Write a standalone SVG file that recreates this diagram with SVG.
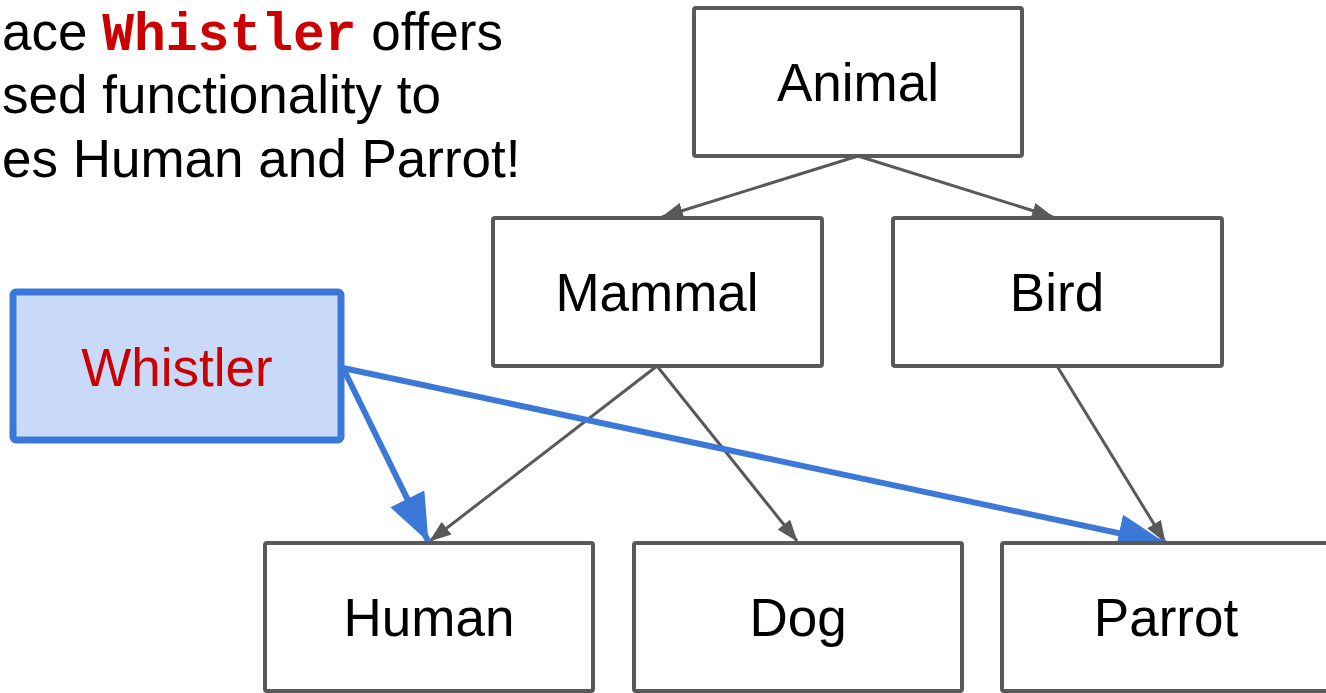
<svg xmlns="http://www.w3.org/2000/svg" width="1326" height="693" viewBox="0 0 1326 693">
<style>
.box{fill:#ffffff;stroke:#595959;stroke-width:4;}
.lbl{font-family:"Liberation Sans",Arial,sans-serif;font-size:53px;fill:#000000;text-anchor:middle;}
.txt{font-family:"Liberation Sans",Arial,sans-serif;font-size:53px;fill:#000000;}
.code{font-family:"Liberation Mono","Courier New",monospace;font-weight:bold;fill:#cc0000;}
.gl{stroke:#595959;stroke-width:3;fill:none;marker-end:url(#ga);}
.bl{stroke:#3c78d8;stroke-width:6;fill:none;marker-end:url(#ba);}
</style>
<defs>
<marker id="ga" viewBox="0 0 22 16" refX="21" refY="8" markerWidth="22" markerHeight="16" markerUnits="userSpaceOnUse" orient="auto">
<path d="M0,0 L22,8 L0,16 z" fill="#595959"/>
</marker>
<marker id="ba" viewBox="0 0 48 38" refX="47" refY="19" markerWidth="48" markerHeight="38" markerUnits="userSpaceOnUse" orient="auto">
<path d="M0,0 L48,19 L0,38 z" fill="#3c78d8"/>
</marker>
</defs>
<rect width="1326" height="693" fill="#ffffff"/>
<g id="caption">
<text class="txt" x="2" y="50">ace <tspan class="code">Whistler</tspan> offers</text>
<text class="txt" x="2" y="113">sed functionality to</text>
<text class="txt" x="2" y="177">es Human and Parrot!</text>
</g>
<g id="connectors">
<path class="gl" d="M858,156 L662,217"/>
<path class="gl" d="M858,156 L1053,217"/>
<path class="gl" d="M657,366 L430,541"/>
<path class="gl" d="M657,366 L797,541"/>
<path class="gl" d="M1057,366 L1165,542"/>
<path class="bl" d="M343,368 L428,541"/>
<path class="bl" d="M343,368 L1165,543"/>
</g>
<g id="animal">
<rect class="box" x="694" y="8" width="328" height="148" rx="2"/>
<text class="lbl" x="858" y="101">Animal</text>
</g>
<g id="mammal">
<rect class="box" x="493" y="218" width="329" height="148" rx="2"/>
<text class="lbl" x="657" y="311">Mammal</text>
</g>
<g id="bird">
<rect class="box" x="893" y="218" width="329" height="148" rx="2"/>
<text class="lbl" x="1057" y="311">Bird</text>
</g>
<g id="whistler">
<rect x="13" y="292" width="328" height="148" rx="3" fill="#c9daf8" stroke="#3c78d8" stroke-width="7"/>
<text class="lbl" x="177" y="386" style="fill:#cc0000">Whistler</text>
</g>
<g id="human">
<rect class="box" x="265" y="543" width="328" height="148" rx="2"/>
<text class="lbl" x="429" y="636">Human</text>
</g>
<g id="dog">
<rect class="box" x="634" y="543" width="328" height="148" rx="2"/>
<text class="lbl" x="798" y="636">Dog</text>
</g>
<g id="parrot">
<rect class="box" x="1002" y="543" width="328" height="148" rx="2"/>
<text class="lbl" x="1166" y="636">Parrot</text>
</g>
</svg>
